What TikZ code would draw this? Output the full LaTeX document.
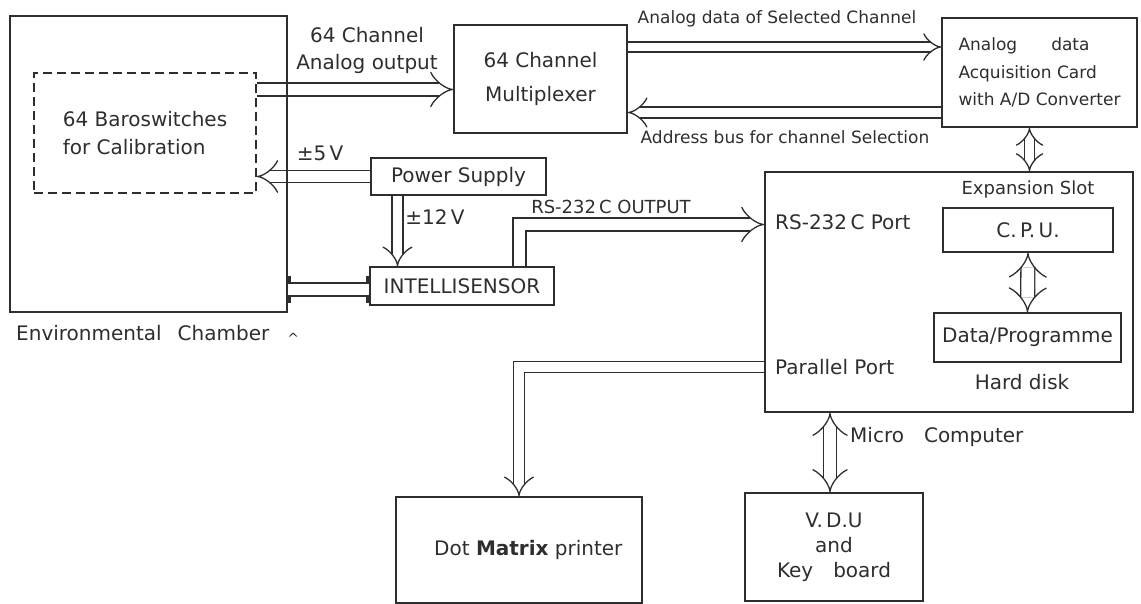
\documentclass[tikz,border=0pt]{standalone}
\usepackage{fontspec}
\setmainfont{DejaVu Sans}
\usetikzlibrary{arrows.meta,backgrounds}
\definecolor{inkgrey}{gray}{0.18}

\begin{document}
\begin{tikzpicture}[x=1pt, y=-1pt,
    block/.style={draw=inkgrey, line width=1.3pt, inner sep=0pt, text=inkgrey, align=center, font=\fontsize{20}{27}\selectfont},
    lbl/.style={inner sep=0pt, text=inkgrey, align=center, font=\fontsize{20}{27}\selectfont},
    small/.style={lbl, font=\fontsize{17}{23}\selectfont},
    bus/.style={draw=inkgrey, line width=1.3pt, double=white, double distance=9.6pt, -{Implies}},
    bibus/.style={bus, {Implies}-{Implies}},
    link/.style={draw=inkgrey, line width=1.3pt, double=white, double distance=11.6pt},
    tab/.style={draw=inkgrey, line width=3pt}
]
\useasboundingbox (0,0) rectangle (1141,604);

% Blocks
\node[block, minimum width=277pt, minimum height=296pt] (env) at (148.5,164) {};
\node[block, dashed, dash pattern=on 9pt off 5pt, minimum width=222pt, minimum height=120pt, align=left] (baro) at (145,133) {64 Baroswitches\\[1pt]for Calibration};
\node[block, minimum width=173pt, minimum height=108pt] (mux) at (540.5,79) {64 Channel\\[7pt]Multiplexer};
\node[block, minimum width=195pt, minimum height=109pt, align=left, font=\fontsize{17}{27.5}\selectfont] (acq) at (1039.5,72.5) {Analog\hspace{2em}data\\Acquisition Card\\with A/D Converter};
\node[block, minimum width=175pt, minimum height=37pt] (power) at (458.5,176.5) {Power Supply};
\node[block, minimum width=184pt, minimum height=38pt] (intel) at (462,286) {INTELLISENSOR};
\node[block, minimum width=368pt, minimum height=240pt] (micro) at (949,292) {};
\node[block, minimum width=170pt, minimum height=44pt] (cpu) at (1028,230) {C.\,P.\,U.};
\node[block, minimum width=187pt, minimum height=49pt] (data) at (1027.5,337.5) {Data/Programme};
\node[block, minimum width=246pt, minimum height=106pt,
      label={[lbl, anchor=east, xshift=-20pt]east:Dot \textbf{Matrix} printer}] (printer) at (519,550) {};
\node[block, minimum width=178pt, minimum height=108pt, font=\fontsize{20}{25}\selectfont] (vdu) at (834,547) {V.\,D.U\\and\\Key\quad board};

% Labels
\node[lbl] (aoutlbl) at (367,50) {64 Channel\\Analog output};
\node[small] (sellbl) at (777,19) {Analog data of Selected Channel};
\node[small] (addrlbl) at (785,137) {Address bus for channel Selection};
\node[lbl] (fivelbl) at (320,153) {±5\,V};
\node[lbl] (twelvelbl) at (435,217) {±12\,V};
\node[lbl, font=\fontsize{18}{22}\selectfont] (rslbl) at (611,207) {RS-232\,C OUTPUT};
\node[lbl, anchor=west] (envlbl) at (16,334) {Environmental\hspace{0.8em}Chamber\hspace{0.9em}\raisebox{-3pt}{\fontsize{14}{14}\selectfont\textasciicircum}};
\node[lbl, font=\fontsize{18}{22}\selectfont] (slotlbl) at (1028,190) {Expansion Slot};
\node[lbl, anchor=west] (rsport) at (775,222) {RS-232\,C Port};
\node[lbl, anchor=west] (parport) at (775,367) {Parallel Port};
\node[lbl] (disklbl) at (1022,382) {Hard disk};
\node[lbl, anchor=west] (mclbl) at (850,437) {Micro\quad Computer};

% Buses
\begin{scope}[on background layer]
\draw[bus, double distance=11.6pt] ([yshift=43.5pt]baro.east) -- ([yshift=43.5pt]baro.east -| mux.west);
\draw[bus, double distance=8.6pt] ([yshift=32pt]mux.east) -- ([yshift=32pt]mux.east -| acq.west);
\draw[bus] ([yshift=-33.5pt]mux.east -| acq.west) -- ([yshift=-33.5pt]mux.east);
\draw[bus, double distance=10.6pt] (power.west) -- (power.west -| baro.east);
\draw[bus] ([xshift=-61pt]power.south) -- ([xshift=-61pt]power.south |- intel.north);
\draw[link] ([yshift=-3.5pt]intel.west -| env.east) -- ([yshift=-3.5pt]intel.west);
\draw[bus, double distance=11.6pt] ([xshift=57.5pt]intel.north) |- ([yshift=-2.5pt]rsport.west -| micro.west);
\draw[bus] (parport.west -| micro.west) -| (printer.north);
\draw[bibus, double distance=8.6pt] ([xshift=-10pt]acq.south) -- ([xshift=-10pt]acq.south |- micro.north);
\draw[bibus, double distance=12.6pt] (cpu.south) -- (data.north);
\draw[bibus, double distance=11.6pt] ([xshift=-4pt]vdu.north |- micro.south) -- ([xshift=-4pt]vdu.north);
\end{scope}

% Connector tabs
\foreach \ya/\yb in {10/2, -9/-17}{
  \draw[tab] ([xshift=1.5pt, yshift=\ya pt]intel.west -| env.east) -- ([xshift=1.5pt, yshift=\yb pt]intel.west -| env.east);
  \draw[tab] ([xshift=-1.5pt, yshift=\ya pt]intel.west) -- ([xshift=-1.5pt, yshift=\yb pt]intel.west);
}

\end{tikzpicture}
\end{document}
